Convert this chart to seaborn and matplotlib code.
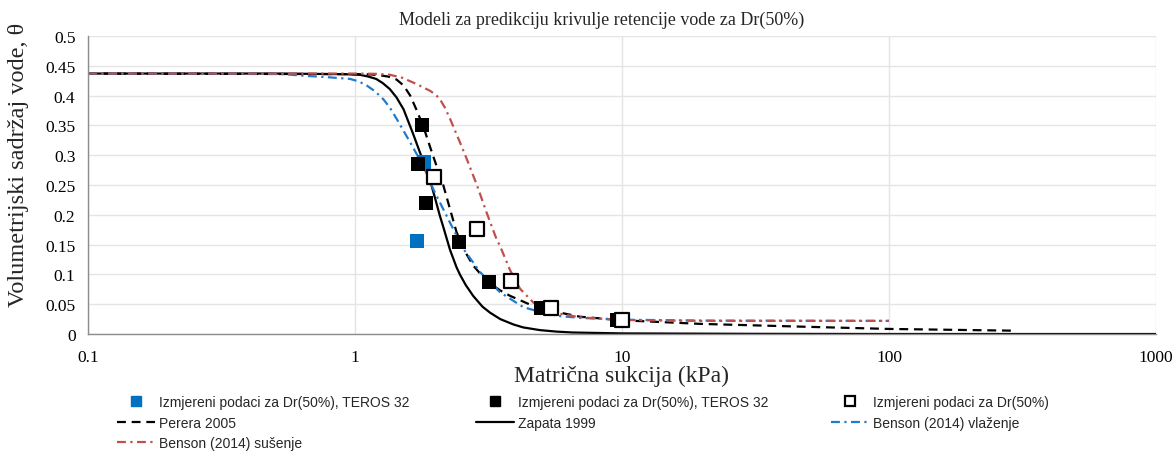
import matplotlib
matplotlib.use("Agg")
import matplotlib.pyplot as plt
from matplotlib.lines import Line2D
import seaborn as sns
import pandas as pd

# Measured points (suction in kPa, volumetric water content)
teros_blue_x = [1.71, 1.81]
teros_blue_y = [0.156, 0.289]

teros_black_x = [1.78, 1.72, 1.84, 2.45, 3.18, 4.97, 9.57]
teros_black_y = [0.351, 0.285, 0.220, 0.154, 0.087, 0.044, 0.0235]

lab_x = [1.98, 2.86, 3.84, 5.42, 10.0]
lab_y = [0.263, 0.176, 0.089, 0.044, 0.0235]

# Model curves
perera_x = [0.1, 1.0, 1.15, 1.24, 1.33, 1.43, 1.52, 1.61, 1.70, 1.80, 1.96, 2.14, 2.40, 2.60, 2.77, 3.00, 3.20, 3.50, 3.81, 4.65, 5.69, 6.96, 10.1, 19.6, 50.0, 100.0, 300.0]
perera_y = [0.437, 0.436, 0.4355, 0.434, 0.432, 0.427, 0.417, 0.400, 0.376, 0.349, 0.299, 0.250, 0.171, 0.136, 0.115, 0.097, 0.085, 0.073, 0.064, 0.047, 0.037, 0.029, 0.023, 0.017, 0.012, 0.0085, 0.0055]

zapata_x = [0.1, 0.5, 0.9, 1.04, 1.12, 1.20, 1.27, 1.35, 1.43, 1.52, 1.65, 1.80, 1.91, 2.00, 2.08, 2.14, 2.27, 2.40, 2.47, 2.60, 2.77, 3.00, 3.20, 3.50, 3.92, 4.27, 4.93, 5.69, 6.55, 10.0, 30.0, 100.0, 1000.0]
zapata_y = [0.437, 0.437, 0.436, 0.435, 0.432, 0.428, 0.421, 0.411, 0.397, 0.377, 0.336, 0.290, 0.258, 0.226, 0.198, 0.180, 0.141, 0.112, 0.100, 0.082, 0.064, 0.046, 0.036, 0.025, 0.016, 0.011, 0.0065, 0.004, 0.0025, 0.001, 0.0003, 0.0, 0.0]

benson_wet_x = [0.1, 0.4, 0.537, 0.659, 0.783, 0.958, 1.03, 1.106, 1.19, 1.276, 1.35, 1.432, 1.607, 1.802, 1.964, 2.268, 2.545, 2.939, 3.493, 4.27, 5.22, 5.86, 7.0, 10.0, 20.0, 100.0]
benson_wet_y = [0.437, 0.437, 0.436, 0.433, 0.431, 0.428, 0.424, 0.417, 0.407, 0.394, 0.380, 0.361, 0.322, 0.282, 0.243, 0.187, 0.143, 0.104, 0.070, 0.045, 0.034, 0.030, 0.027, 0.024, 0.0225, 0.022]

benson_dry_x = [0.1, 1.0, 1.2, 1.35, 1.50, 1.65, 1.78, 1.91, 2.00, 2.08, 2.17, 2.27, 2.47, 2.62, 2.86, 3.11, 3.39, 3.49, 3.81, 4.15, 4.65, 4.93, 5.53, 6.96, 10.0, 20.0, 100.0]
benson_dry_y = [0.437, 0.437, 0.4365, 0.435, 0.430, 0.422, 0.415, 0.408, 0.402, 0.394, 0.380, 0.361, 0.322, 0.294, 0.250, 0.204, 0.159, 0.148, 0.107, 0.076, 0.053, 0.045, 0.036, 0.028, 0.0235, 0.022, 0.022]

x_ticks = [0.1, 1, 10, 100, 1000]
x_tick_labels = ["0.1", "1", "10", "100", "1000"]
y_ticks = [0, 0.05, 0.1, 0.15, 0.2, 0.25, 0.3, 0.35, 0.4, 0.45, 0.5]
y_tick_labels = ["0", "0.05", "0.1", "0.15", "0.2", "0.25", "0.3", "0.35", "0.4", "0.45", "0.5"]

title = "Modeli za predikciju krivulje retencije vode za Dr(50%)"
x_label = "Matrična sukcija (kPa)"
y_label = "Volumetrijski sadržaj vode, θ"
lbl_blue = "Izmjereni podaci za Dr(50%), TEROS 32"
lbl_black = "Izmjereni podaci za Dr(50%), TEROS 32"
lbl_open = "Izmjereni podaci za Dr(50%)"
lbl_perera = "Perera 2005"
lbl_zapata = "Zapata 1999"
lbl_wet = "Benson (2014) vlaženje"
lbl_dry = "Benson (2014) sušenje"

sns.set_theme(style="white")
plt.rcParams["font.family"] = ["Liberation Serif", "DejaVu Serif"]

BLUE = "#1f7bd0"
RED = "#c0504d"

W, H = 1176, 452
fig = plt.figure(figsize=(W / 100, H / 100), dpi=100)
ax = fig.add_axes([88 / W, 1 - 335 / H, (1156 - 88) / W, (335 - 37) / H])
ax.set_xscale("log")


def curve(x, y, **kw):
    df = pd.DataFrame({"x": x, "y": y})
    sns.lineplot(data=df, x="x", y="y", ax=ax, sort=False, estimator=None, **kw)


curve(perera_x, perera_y, color="black", lw=1.6, dashes=(4, 2.6))
curve(zapata_x, zapata_y, color="black", lw=1.6)
curve(benson_wet_x, benson_wet_y, color=BLUE, lw=1.6, dashes=(4, 2, 1, 2))
curve(benson_dry_x, benson_dry_y, color=RED, lw=1.6, dashes=(4, 2, 1, 2))

sns.scatterplot(x=teros_blue_x, y=teros_blue_y, ax=ax, marker="s", s=110, color="#0070c0",
                edgecolor="#0070c0", linewidth=0, zorder=3)
sns.scatterplot(x=teros_black_x, y=teros_black_y, ax=ax, marker="s", s=110, color="black",
                edgecolor="black", linewidth=0, zorder=4)
sns.scatterplot(x=lab_x, y=lab_y, ax=ax, marker="s", s=95, facecolor="white",
                edgecolor="black", linewidth=1.6, zorder=5)

ax.set_xlim(0.1, 1000)
ax.set_ylim(0, 0.5)
ax.set_xticks(x_ticks)
ax.set_xticklabels(x_tick_labels)
ax.xaxis.set_minor_locator(matplotlib.ticker.NullLocator())
ax.set_yticks(y_ticks)
ax.set_yticklabels(y_tick_labels)
ax.grid(True, which="major", color="#e4e4e4", lw=1)
ax.set_axisbelow(True)
for side in ["top", "right"]:
    ax.spines[side].set_visible(False)
for side in ["left", "bottom"]:
    ax.spines[side].set_color("#8c8c8c")
    ax.spines[side].set_linewidth(1)
ax.tick_params(axis="both", which="major", direction="out", length=4, width=1,
               color="#8c8c8c", labelsize=12.5, labelcolor="black", pad=5)
ax.tick_params(axis="x", pad=7)

ax.set_xlabel(x_label, fontsize=17, labelpad=0)
ax.set_ylabel(y_label, fontsize=17.5)
# y label sits a little above the axes centre, hugging the left edge
ax.yaxis.set_label_coords((29 - 88) / 1068, (335 - 165) / 298)
fig.text(602 / W, 1 - 20 / H, title, ha="center", va="center", fontsize=13)

# Legend handles, laid out in three columns below the plot
sq = dict(marker="s", linestyle="none", markersize=7.5)
h_blue = Line2D([], [], color="#0070c0", **sq)
h_black = Line2D([], [], color="black", **sq)
h_open = Line2D([], [], markerfacecolor="white", markeredgecolor="black", markeredgewidth=1.6, **sq)
h_perera = Line2D([], [], color="black", lw=1.6, dashes=(4, 2.6))
h_zapata = Line2D([], [], color="black", lw=1.6)
h_wet = Line2D([], [], color=BLUE, lw=1.6, dashes=(4, 2, 1, 2))
h_dry = Line2D([], [], color=RED, lw=1.6, dashes=(4, 2, 1, 2))

columns = [
    (117, [h_blue, h_perera, h_dry], [lbl_blue, lbl_perera, lbl_dry]),
    (476, [h_black, h_zapata], [lbl_black, lbl_zapata]),
    (831, [h_open, h_wet], [lbl_open, lbl_wet]),
]
for x0, hs, ls in columns:
    fig.legend(hs, ls, loc="upper left", bbox_to_anchor=(x0 / W, 1 - 396 / H),
               frameon=False, borderpad=0, borderaxespad=0, handlelength=2.7,
               handletextpad=0.35, labelspacing=0.48,
               prop={"family": "Liberation Sans", "size": 10})

fig.savefig("out.png", dpi=100)
